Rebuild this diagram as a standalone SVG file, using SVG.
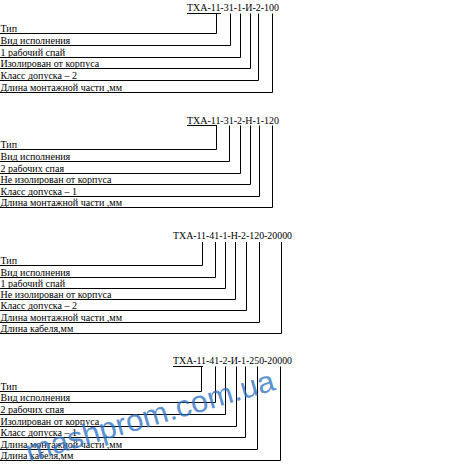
<svg xmlns="http://www.w3.org/2000/svg" width="468" height="471" viewBox="0 0 468 471">
<style>
text{font-family:"Liberation Serif","Times New Roman",serif;font-size:10px;fill:#000}
.ln{fill:none;stroke:#000;stroke-width:1}
.wm{font-family:"Liberation Sans",Arial,sans-serif;font-size:30px;fill:#2f74c4;fill-opacity:0.8}
</style>
<rect width="468" height="471" fill="#fff"/>
<g id="block1">
<text x="187" y="11" textLength="92" lengthAdjust="spacingAndGlyphs">ТХА-11-31-1-И-2-100</text>
<text x="0.5" y="31.5">Тип</text>
<text x="0.5" y="43.5">Вид исполнения</text>
<text x="0.5" y="55.5">1 рабочий спай</text>
<text x="0.5" y="66.5">Изолирован от корпуса</text>
<text x="0.5" y="78.5">Класс допуска – 2</text>
<text x="0.5" y="90.5">Длина монтажной части ,мм</text>
</g>
<g id="block2">
<text x="187" y="123.5" textLength="92" lengthAdjust="spacingAndGlyphs">ТХА-11-31-2-Н-1-120</text>
<text x="0.5" y="147.5">Тип</text>
<text x="0.5" y="159.5">Вид исполнения</text>
<text x="0.5" y="171.5">2 рабочих спая</text>
<text x="0.5" y="182.5">Не изолирован от корпуса</text>
<text x="0.5" y="194.5">Класс допуска – 1</text>
<text x="0.5" y="205.5">Длина монтажной части ,мм</text>
</g>
<g id="block3">
<text x="173" y="238.5" textLength="119" lengthAdjust="spacingAndGlyphs">ТХА-11-41-1-Н-2-120-20000</text>
<text x="0.5" y="263.5">Тип</text>
<text x="0.5" y="275.5">Вид исполнения</text>
<text x="0.5" y="286.5">1 рабочий спай</text>
<text x="0.5" y="297.5">Не изолирован от корпуса</text>
<text x="0.5" y="308.5">Класс допуска – 2</text>
<text x="0.5" y="320.5">Длина монтажной части ,мм</text>
<text x="0.5" y="331.5">Длина кабеля,мм</text>
</g>
<g id="block4">
<text x="173" y="364" textLength="119" lengthAdjust="spacingAndGlyphs">ТХА-11-41-2-И-1-250-20000</text>
<text x="0.5" y="389.5">Тип</text>
<text x="0.5" y="400.5">Вид исполнения</text>
<text x="0.5" y="412.5">2 рабочих спая</text>
<text x="0.5" y="424.5">Изолирован от корпуса</text>
<text x="0.5" y="435.5">Класс допуска – 1</text>
<text x="0.5" y="447.5">Длина монтажной части ,мм</text>
<text x="0.5" y="458.5">Длина кабеля,мм</text>
</g>
<g id="connectors" class="ln">
<path d="M187 13.5H221"/>
<path d="M0 33.5H216.5V13.5M0 45.5H230.5V13.5M0 57.5H240.5V13.5M0 68.5H250.5V13.5M0 80.5H258.5V13.5M0 92.5H272.5V13.5"/>
<path d="M187 125.5H217"/>
<path d="M0 149.5H216.5V125.5M0 161.5H229.5V125.5M0 173.5H240.5V125.5M0 184.5H250.5V125.5M0 196.5H259.5V125.5M0 207.5H272.5V125.5"/>
<path d="M0 265.5H202.5V242M0 277.5H215.5V242M0 288.5H225.5V242M0 299.5H235.5V242M0 310.5H246.5V242M0 322.5H259.5V242M0 333.5H281.5V242"/>
<path d="M173 366.5H203"/>
<path d="M0 391.5H201.5V366.5M0 402.5H215.5V366.5M0 414.5H225.5V366.5M0 426.5H236.5V366.5M0 437.5H245.5V366.5M0 449.5H257.5V366.5M0 460.5H280.5V366.5"/>
</g>
<text class="wm" x="29" y="462" transform="rotate(-16.3 29 462)" textLength="258" lengthAdjust="spacingAndGlyphs">mashprom.com.ua</text>
</svg>
